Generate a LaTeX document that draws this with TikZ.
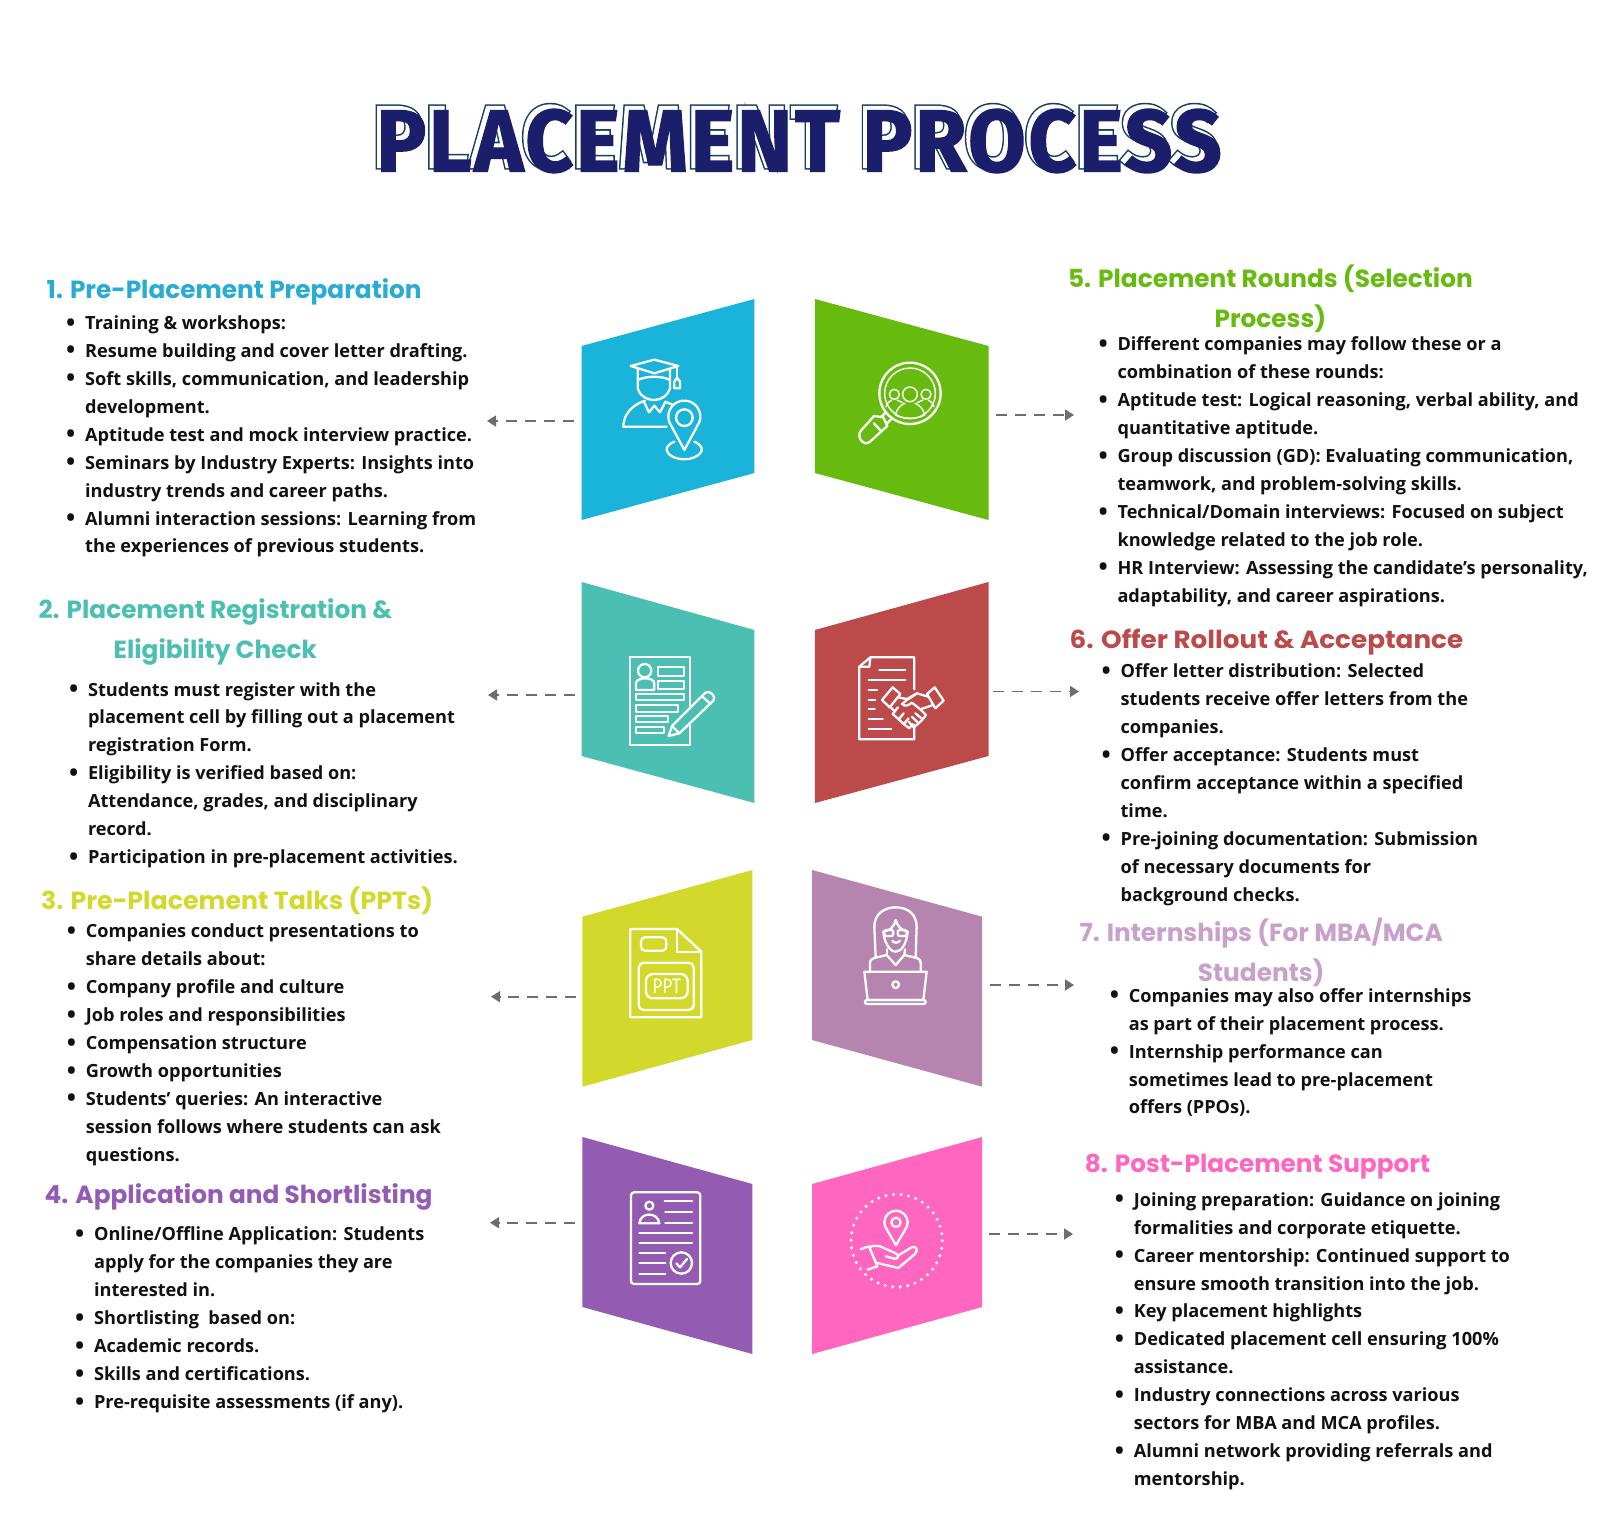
\documentclass[tikz,border=0pt]{standalone}
\usepackage{fontspec}
\usepackage{tikz}
\usetikzlibrary{arrows.meta}
\setmainfont{Open Sans}
\newfontfamily\headfont{Poppins}
\newfontfamily\pptfont{Fira Sans}
\newfontfamily\titleouter{Fira Sans}[LetterSpace=3,BoldFeatures={FakeBold=5}]
\newfontfamily\titlemiddle{Fira Sans}[LetterSpace=3,BoldFeatures={FakeBold=1.5}]
\newfontfamily\titleinner{Fira Sans}[LetterSpace=3,BoldFeatures={FakeBold=1.5}]
\definecolor{hblue}{HTML}{1AB3D9}
\definecolor{hgreen}{HTML}{67BB0E}
\definecolor{hteal}{HTML}{4CBFB3}
\definecolor{hred}{HTML}{BD4A4A}
\definecolor{hyellow}{HTML}{D2D92A}
\definecolor{hmauve}{HTML}{B585B0}
\definecolor{hpurple}{HTML}{945BB3}
\definecolor{hpink}{HTML}{FF66C0}
\definecolor{tblue}{HTML}{29ABD4}
\definecolor{tmauve}{HTML}{C9A0CC}
\definecolor{navy}{HTML}{1B1F6B}
\definecolor{navyline}{HTML}{14405F}
\definecolor{arrowgray}{HTML}{6B6D75}
\definecolor{bodyblack}{HTML}{111111}
\newcommand{\itm}{\makebox[19pt][l]{\raisebox{-.15ex}{\scalebox{1.35}{\textbullet}}}\strut}
\newcommand{\cnt}{\hspace*{19pt}\strut}
\newcommand{\iconpin}[4]{(#1,#4) -- ({#1-.94*#3},{#2+.34*#3}) arc[start angle=160,end angle=380,radius=#3] -- cycle}
\tikzset{
	crop/.style 2 args={shift={(#1,#2)},x=.3333pt,y=-.3333pt},
	iconline/.style={draw=white,line width=2.3pt,line join=round,line cap=round},
	thinline/.style={draw=white,line width=1.4pt,line join=round,line cap=round},
	bodytext/.style={inner sep=0pt,anchor=north west,align=left,text=bodyblack,
		font=\fontsize{18.15}{27.93}\selectfont\bfseries},
	headtext/.style={inner sep=0pt,align=center,font=\fontsize{24.8}{40}\selectfont\headfont\bfseries},
	flow/.style={draw=arrowgray,line width=1.6pt,dash pattern=on 11pt off 8pt,-{Triangle[length=9pt,width=11pt]}},
	titletext/.style={inner sep=0pt,anchor=west,font=\fontsize{88}{90}\selectfont\bfseries}
}
\begin{document}
\begin{tikzpicture}[x=1pt,y=-1pt]
	\useasboundingbox (0,0) rectangle (1600,1536);
	\fill[white] (0,0) rectangle (1600,1536);
	%% title
	\node[titletext,text=navyline] (ttl1) at (372,137) {\titleouter\scalebox{.95}[1]{PLACEMENT PROCESS}};
	\node[titletext,text=white] (ttl2) at (372,137) {\titlemiddle\scalebox{.95}[1]{PLACEMENT PROCESS}};
	\node[titletext,text=navy] (ttl3) at (376,141) {\titleinner\scalebox{.95}[1]{PLACEMENT PROCESS}};
	%% panels
	\fill[hblue] (581.6,346) -- (754.4,299) -- (754.4,473) -- (581.6,520) -- cycle;
	\fill[hgreen] (814.9,299) -- (988.5,346) -- (988.5,520) -- (814.9,473) -- cycle;
	\fill[hteal] (581.6,582) -- (754.4,630) -- (754.4,803) -- (581.6,756) -- cycle;
	\fill[hred] (814.9,630) -- (988.5,582) -- (988.5,756) -- (814.9,803) -- cycle;
	\fill[hyellow] (582.4,916.7) -- (752.4,870) -- (752.4,1040) -- (582.4,1086.7) -- cycle;
	\fill[hmauve] (812.1,870) -- (982.2,916.7) -- (982.2,1086.7) -- (812.1,1040) -- cycle;
	\fill[hpurple] (582.4,1137) -- (752.4,1184) -- (752.4,1354) -- (582.4,1307) -- cycle;
	\fill[hpink] (812.1,1184) -- (982.2,1137) -- (982.2,1307) -- (812.1,1354) -- cycle;
	%% icon 1
	\begin{scope}[crop={615}{355}]
		\draw[iconline] (47,33) -- (118,14) -- (190,33) -- (118,55) -- cycle;
		\draw[iconline] (68,42) -- (68,100) .. controls (72,120) and (95,135) .. (118,135) .. controls (140,135) and (160,120) .. (165,100) -- (165,42);
		\draw[iconline] (68,75) .. controls (95,62) and (140,62) .. (165,75);
		\draw[iconline] (186,35) -- (186,68);
		\draw[iconline] (178,100) -- (178,80) -- (186,68) -- (195,80) -- (195,100) -- cycle;
		\draw[iconline] (90,137) .. controls (50,150) and (25,180) .. (25,215) -- (155,215);
		\draw[iconline] (88,143) -- (102,172) -- (118,152) -- (135,172) -- (150,143);
		\draw[iconline] (150,140) -- (175,150);
		\draw[iconline] \iconpin{208}{185}{48}{285};
		\draw[iconline] (208,188) circle (25);
		\draw[iconline] (178,260) .. controls (130,280) and (165,313) .. (208,313) .. controls (250,313) and (285,280) .. (238,260);
	\end{scope}
	%% icon 5
	\begin{scope}[crop={850}{360}]
		\draw[iconline] (180,100) circle (92);
		\draw[thinline] (180,100) circle (76);
		\draw[thinline] (180,103) circle (22);
		\draw[thinline] (133,103) circle (15);
		\draw[thinline] (228,103) circle (15);
		\draw[thinline] (136,165) .. controls (140,145) and (155,133) .. (165,130);
		\draw[thinline] (195,130) .. controls (205,133) and (220,145) .. (224,165);
		\draw[thinline] (136,165) .. controls (160,178) and (200,178) .. (224,165);
		\draw[thinline] (108,140) .. controls (110,130) and (118,124) .. (125,120);
		\draw[thinline] (141,120) -- (158,128);
		\draw[thinline] (252,140) .. controls (250,130) and (242,124) .. (235,120);
		\draw[thinline] (219,120) -- (202,128);
		\draw[iconline] (105,160) -- (92,172);
		\draw[iconline] (123,178) -- (110,192);
		\draw[iconline] (72,168) -- (32,213) .. controls (18,230) and (42,262) .. (60,245) -- (112,198) -- (100,172) -- cycle;
		\draw[iconline] (72,190) -- (92,212);
	\end{scope}
	%% icon 2
	\begin{scope}[crop={622}{650}]
		\draw[iconline] (205,175) -- (205,22) -- (25,22) -- (25,285) -- (205,285) -- (205,225);
		\draw[iconline] (68,62) circle (20);
		\draw[iconline] (42,120) -- (42,100) .. controls (42,80) and (97,80) .. (97,100) -- (97,120) -- cycle;
		\draw[iconline] (108,50) rectangle (187,78);
		\draw[iconline] (108,92) rectangle (187,118);
		\draw[iconline] (42,132) rectangle (187,150);
		\draw[iconline] (42,165) rectangle (168,185);
		\draw[iconline] (42,198) rectangle (138,217);
		\draw[iconline] (42,232) rectangle (125,250);
		\draw[iconline] (140,258) -- (150,228) -- (250,128) .. controls (262,118) and (285,140) .. (274,152) -- (172,250) -- cycle;
		\draw[iconline] (150,228) -- (172,250);
		\draw[iconline] (240,138) -- (265,162);
	\end{scope}
	%% icon 6
	\begin{scope}[crop={852}{650}]
		\draw[iconline] (187,118) -- (187,22) -- (55,22) -- (22,50) -- (22,268) -- (187,268) -- (187,225);
		\draw[iconline] (22,50) -- (52,50) -- (55,22);
		\foreach \lx/\rx/\ly in {82/160/60,50/160/90,50/75/120,50/70/150,50/68/178,50/92/208,50/118/238}
			\draw[iconline] (\lx,\ly) -- (\rx,\ly);
		\draw[iconline] (90,150) -- (122,112) -- (145,132) -- (113,172) -- cycle;
		\draw[iconline] (225,132) -- (248,112) -- (275,152) -- (250,175) -- cycle;
		\draw[iconline] (137,142) -- (165,147) -- (195,130) -- (228,140);
		\draw[iconline] (195,130) -- (165,150) -- (150,162) .. controls (160,172) and (170,165) .. (180,158) -- (205,178) -- (243,165);
		\draw[iconline] (113,170) -- (130,185);
		\draw[iconline] (205,178) -- (222,195) -- (212,208) -- (190,190);
		\draw[iconline] (212,208) -- (200,220) -- (180,200);
		\draw[iconline] (200,220) -- (185,232) -- (170,215);
		\draw[iconline] (122,192) -- (138,172);
		\draw[iconline] (122,192) -- (140,208) -- (155,190);
		\draw[iconline] (140,208) -- (155,222) -- (170,205);
		\draw[iconline] (155,222) -- (172,235) -- (182,222);
	\end{scope}
	%% icon 3
	\begin{scope}[crop={622}{920}]
		\draw[iconline] (25,27) -- (165,27) -- (238,95) -- (238,292) -- (25,292) -- cycle;
		\draw[iconline] (165,27) -- (165,95) -- (238,95);
		\draw[iconline,rounded corners=4pt] (57,52) rectangle (133,92);
		\draw[iconline,rounded corners=5pt] (50,128) rectangle (215,270);
		\draw[iconline,rounded corners=7pt] (72,162) rectangle (197,235);
		\node[inner sep=0pt,text=white] (pptlabel) at (134,198) {\fontsize{21}{21}\selectfont\scalebox{.82}[1]{\pptfont PPT}};
	\end{scope}
	%% icon 7
	\begin{scope}[crop={855}{900}]
		\draw[iconline] (62,172) -- (58,80) .. controls (58,40) and (90,22) .. (122,22) .. controls (155,22) and (185,40) .. (185,80) -- (182,172);
		\draw[iconline] (85,95) .. controls (88,130) and (105,155) .. (122,155) .. controls (140,155) and (155,130) .. (158,95);
		\draw[iconline] (85,95) .. controls (105,92) and (118,80) .. (122,60) .. controls (128,80) and (140,92) .. (158,95);
		\draw[iconline,rounded corners=2pt] (88,90) rectangle (115,108);
		\draw[iconline,rounded corners=2pt] (128,90) rectangle (155,108);
		\draw[iconline] (112,122) .. controls (116,130) and (128,130) .. (135,122);
		\draw[iconline] (45,212) -- (45,190) .. controls (45,180) and (50,176) .. (58,174) -- (95,165) -- (122,195) -- (148,165) -- (185,174) .. controls (192,176) and (197,180) .. (197,190) -- (197,212);
		\draw[iconline] (95,148) -- (95,165);
		\draw[iconline] (150,148) -- (148,165);
		\draw[iconline] (28,215) -- (215,215) -- (205,300) -- (38,300) -- cycle;
		\draw[iconline,rounded corners=2pt] (30,300) rectangle (212,312);
		\draw[iconline] (122,254) circle (10);
	\end{scope}
	%% icon 4
	\begin{scope}[crop={622}{1185}]
		\draw[iconline,rounded corners=3pt] (27,22) rectangle (235,297);
		\draw[iconline] (82,62) circle (12);
		\draw[iconline] (52,115) .. controls (55,80) and (108,80) .. (112,115) -- cycle;
		\foreach \lx/\rx/\ly in {128/210/48,130/210/82,130/210/113,52/210/143,52/210/175,52/130/205,52/130/235,52/130/266}
			\draw[iconline] (\lx,\ly) -- (\rx,\ly);
		\draw[iconline] (178,234) circle (32);
		\draw[iconline] (163,235) -- (174,247) -- (195,222);
	\end{scope}
	%% icon 8
	\begin{scope}[crop={845}{1188}]
		\foreach \ang in {0,9.5,...,359}
			\fill[white] ({155+137*cos(\ang)},{158+139*sin(\ang)}) circle (5);
		\draw[iconline] \iconpin{153}{103}{35}{172};
		\draw[iconline] (153,103) circle (14);
		\draw[iconline] (48,183) -- (72,175) -- (97,235) -- (68,245);
		\draw[iconline] (72,178) .. controls (85,172) and (95,172) .. (105,175) -- (150,195) .. controls (165,200) and (160,214) .. (148,212) -- (122,205);
		\draw[iconline] (160,202) -- (200,178) .. controls (212,172) and (222,185) .. (210,198) -- (160,240) -- (97,225);
	\end{scope}
	%% left texts
	\node[headtext,anchor=north west,text=tblue] (h1) at (46.5,270.5) {\strut 1. Pre-Placement Preparation};
	\node[bodytext] (b1) at (66,309.8) {\itm Training \& workshops:\\
		\itm Resume building and cover letter drafting.\\
		\itm Soft skills, communication, and leadership\\
		\cnt development.\\
		\itm Aptitude test and mock interview practice.\\
		\itm Seminars by Industry Experts: Insights into\\
		\cnt industry trends and career paths.\\
		\itm Alumni interaction sessions: Learning from\\
		\cnt the experiences of previous students.};
	\node[headtext,anchor=north,text=hteal] (h2) at (215.3,590.5) {\strut 2. Placement Registration \&\\\strut Eligibility Check};
	\node[bodytext] (b2) at (68.8,676.3) {\itm Students must register with the\\
		\cnt placement cell by filling out a placement\\
		\cnt registration Form.\\
		\itm Eligibility is verified based on:\\
		\cnt Attendance, grades, and disciplinary\\
		\cnt record.\\
		\itm Participation in pre-placement activities.};
	\node[headtext,anchor=north west,text=hyellow] (h3) at (40.8,881.5) {\strut\scalebox{1.02}[1]{3. Pre-Placement Talks (PPTs)}};
	\node[bodytext] (b3) at (66.7,918.1) {\itm Companies conduct presentations to\\
		\cnt share details about:\\
		\itm Company profile and culture\\
		\itm Job roles and responsibilities\\
		\itm Compensation structure\\
		\itm Growth opportunities\\
		\itm Students’ queries: An interactive\\
		\cnt session follows where students can ask\\
		\cnt questions.};
	\node[headtext,anchor=north west,text=hpurple] (h4) at (44.5,1175.5) {\strut 4. Application and Shortlisting};
	\node[bodytext] (b4) at (74.9,1221.2) {\itm Online/Offline Application: Students\\
		\cnt apply for the companies they are\\
		\cnt interested in.\\
		\itm Shortlisting\ \ based on:\\
		\itm Academic records.\\
		\itm Skills and certifications.\\
		\itm Pre-requisite assessments (if any).};
	%% right texts
	\node[headtext,anchor=north,text=hgreen] (h5) at (1270.4,259) {\strut 5. Placement Rounds (Selection\\\strut Process)};
	\node[bodytext] (b5) at (1098.3,331.2) {\itm Different companies may follow these or a\\
		\cnt combination of these rounds:\\
		\itm Aptitude test: Logical reasoning, verbal ability, and\\
		\cnt quantitative aptitude.\\
		\itm Group discussion (GD): Evaluating communication,\\
		\cnt teamwork, and problem-solving skills.\\
		\itm Technical/Domain interviews: Focused on subject\\
		\cnt knowledge related to the job role.\\
		\itm HR Interview: Assessing the candidate’s personality,\\
		\cnt adaptability, and career aspirations.};
	\node[headtext,anchor=north west,text=hred] (h6) at (1069.4,620) {\strut\scalebox{1.058}[1]{6. Offer Rollout \& Acceptance}};
	\node[bodytext] (b6) at (1101.4,658) {\itm Offer letter distribution: Selected\\
		\cnt students receive offer letters from the\\
		\cnt companies.\\
		\itm Offer acceptance: Students must\\
		\cnt confirm acceptance within a specified\\
		\cnt time.\\
		\itm Pre-joining documentation: Submission\\
		\cnt of necessary documents for\\
		\cnt background checks.};
	\node[headtext,anchor=north,text=tmauve] (h7) at (1261.2,913.5) {\strut 7. Internships (For MBA/MCA\\\strut Students)};
	\node[bodytext] (b7) at (1109.6,982.5) {\itm Companies may also offer internships\\
		\cnt as part of their placement process.\\
		\itm Internship performance can\\
		\cnt sometimes lead to pre-placement\\
		\cnt offers (PPOs).};
	\node[headtext,anchor=north west,text=hpink] (h8) at (1084.7,1144.3) {\strut 8. Post-Placement Support};
	\node[bodytext] (b8) at (1114.7,1186.5) {\itm Joining preparation: Guidance on joining\\
		\cnt formalities and corporate etiquette.\\
		\itm Career mentorship: Continued support to\\
		\cnt ensure smooth transition into the job.\\
		\itm Key placement highlights\\
		\itm Dedicated placement cell ensuring 100\%\\
		\cnt assistance.\\
		\itm Industry connections across various\\
		\cnt sectors for MBA and MCA profiles.\\
		\itm Alumni network providing referrals and\\
		\cnt mentorship.};
	%% arrows
	\coordinate (a1s) at (573.5,421);
	\coordinate (a1e) at (487,421);
	\coordinate (a2s) at (575,695);
	\coordinate (a2e) at (488,695);
	\coordinate (a3s) at (575.7,996.7);
	\coordinate (a3e) at (491,996.7);
	\coordinate (a4s) at (575,1222.7);
	\coordinate (a4e) at (490,1222.7);
	\coordinate (a5s) at (996,415);
	\coordinate (a5e) at (1074,415);
	\coordinate (a6s) at (992.5,691.5);
	\coordinate (a6e) at (1079,691.5);
	\coordinate (a7s) at (990,985);
	\coordinate (a7e) at (1074,985);
	\coordinate (a8s) at (989,1234);
	\coordinate (a8e) at (1073,1234);
	\foreach \n in {1,...,8}
		\draw[flow] (a\n s) -- (a\n e);
\end{tikzpicture}
\end{document}
